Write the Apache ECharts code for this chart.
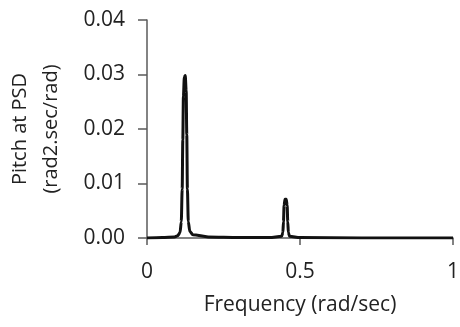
<!DOCTYPE html>
<html>
<head>
<meta charset="utf-8">
<script src="https://cdn.jsdelivr.net/npm/echarts@6/dist/echarts.min.js"></script>
<style>
  html, body { margin: 0; padding: 0; background: #fff; }
  #chart { width: 460px; height: 327px; }
</style>
</head>
<body>
<div id="chart"></div>
<script>
// frequency (rad/sec) and pitch PSD
const freq = [0, 0.05, 0.09, 0.1, 0.108, 0.112, 0.115, 0.117, 0.119, 0.122, 0.125, 0.128, 0.13, 0.132, 0.135, 0.14, 0.15, 0.2, 0.3, 0.4, 0.44, 0.444, 0.446, 0.448, 0.451, 0.455, 0.458, 0.46, 0.462, 0.466, 0.5, 0.7, 1];
const psd = [0, 0.0001, 0.0002, 0.0004, 0.001, 0.003, 0.009, 0.018, 0.026, 0.0295, 0.0298, 0.027, 0.019, 0.009, 0.003, 0.0012, 0.0006, 0.0002, 0.0001, 0.0001, 0.0003, 0.001, 0.003, 0.006, 0.0071, 0.0071, 0.006, 0.003, 0.001, 0.0003, 0.0001, 0, 0];
const xTicks = [0, 0.5, 1];
const yTicks = [0, 0.01, 0.02, 0.03, 0.04];

const font = 'Open Sans';
const textColor = '#222';
const axisColor = '#5a5a5a';

const chart = echarts.init(document.getElementById('chart'), null, { renderer: 'canvas' });
chart.setOption({
  animation: false,
  backgroundColor: '#fff',
  grid: { left: 147, right: 7, top: 20, bottom: 89, containLabel: false, outerBoundsMode: 'none' },
  xAxis: {
    type: 'value',
    min: xTicks[0],
    max: xTicks[xTicks.length - 1],
    interval: 0.5,
    name: 'Frequency (rad/sec)',
    nameLocation: 'middle',
    nameGap: 57,
    nameTextStyle: { fontFamily: font, fontSize: 21, color: textColor },
    axisLine: { show: true, lineStyle: { color: axisColor, width: 1.5 } },
    axisTick: { show: true, inside: false, length: 7, lineStyle: { color: axisColor, width: 1.5 } },
    axisLabel: {
      margin: 24, fontFamily: font, fontSize: 21, color: textColor,
      formatter: v => String(v)
    },
    splitLine: { show: false }
  },
  yAxis: {
    type: 'value',
    min: yTicks[0],
    max: yTicks[yTicks.length - 1],
    interval: 0.01,
    name: 'Pitch at PSD\n(rad2.sec/rad)',
    nameLocation: 'middle',
    nameGap: 80,
    nameTextStyle: { fontFamily: font, fontSize: 20, color: textColor, lineHeight: 31 },
    axisLine: { show: true, lineStyle: { color: axisColor, width: 1.5 } },
    axisTick: { show: true, inside: false, length: 9, lineStyle: { color: axisColor, width: 1.5 } },
    axisLabel: {
      margin: 22, fontFamily: font, fontSize: 21, color: textColor,
      formatter: v => v.toFixed(2)
    },
    splitLine: { show: false }
  },
  series: [{
    type: 'line',
    data: freq.map((f, i) => [f, psd[i]]),
    smooth: 0.3,
    smoothMonotone: 'x',
    showSymbol: false,
    lineStyle: { color: '#111', width: 3 }
  }]
});
</script>
</body>
</html>
